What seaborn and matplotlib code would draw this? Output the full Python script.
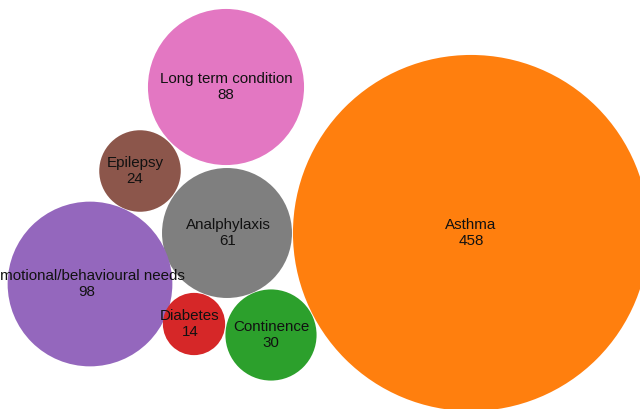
import matplotlib
matplotlib.use("Agg")
import matplotlib.pyplot as plt
import seaborn as sns
import pandas as pd

categories = ["Asthma", "Long term condition", "Epilepsy", "Analphylaxis",
              "Emotional/behavioural needs", "Diabetes", "Continence"]
values = [458, 88, 24, 61, 98, 14, 30]
# packed layout centres (pixel units of the canvas)
x_pos = [471, 226, 140, 227, 90, 194, 271]
y_pos = [233, 87, 171, 233, 284, 324, 335]
colors = ["#ff7f0e", "#e377c2", "#8c564b", "#7f7f7f", "#9467bd", "#d62728", "#2ca02c"]
label_dx = [0, 0, -5, 1, -3, -4, 0]

df = pd.DataFrame({"cat": categories, "value": values, "x": x_pos, "y": y_pos})

sns.set_theme(style="white")
plt.rcParams["font.family"] = ["Liberation Sans", "DejaVu Sans"]

W, H, DPI = 640, 409, 100
fig = plt.figure(figsize=(W / DPI, H / DPI), dpi=DPI)
ax = fig.add_axes([0, 0, 1, 1])

# radius px = 8.32*sqrt(v); area in pt^2 proportional to value
k = (2 * 8.32 * 72 / DPI) ** 2
vmin, vmax = min(values), max(values)
sns.scatterplot(data=df, x="x", y="y", hue="cat", palette=dict(zip(categories, colors)),
                size="value", sizes=(vmin * k, vmax * k), size_norm=(vmin, vmax),
                linewidth=0, alpha=1, legend=False, ax=ax, clip_on=False)

for c, v, x, y, dx in zip(categories, values, x_pos, y_pos, label_dx):
    ax.text(x + dx, y, f"{c}\n{v}", ha="center", va="center", fontsize=10.9,
            color="#111111", linespacing=1.2)

ax.set_xlim(0, W)
ax.set_ylim(H, 0)
ax.axis("off")
fig.savefig("out.png", dpi=DPI)
